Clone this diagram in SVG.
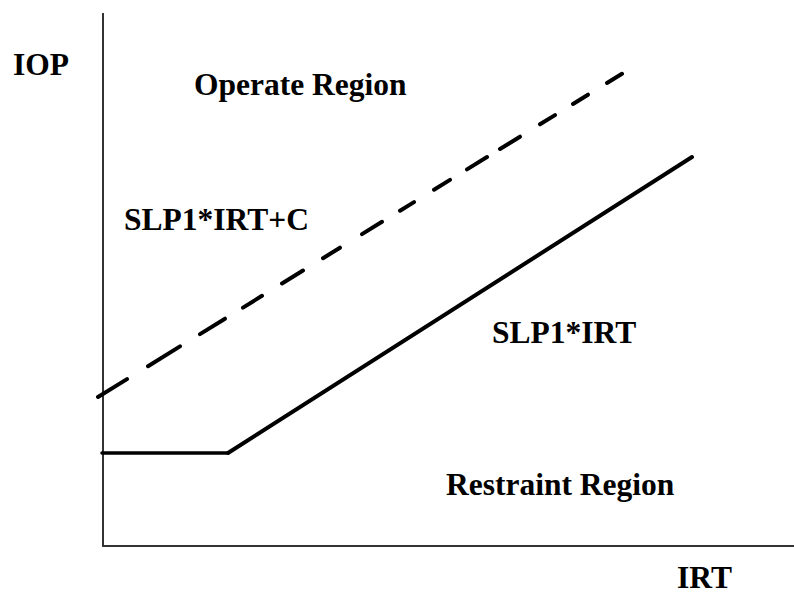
<svg xmlns="http://www.w3.org/2000/svg" width="794" height="595" viewBox="0 0 794 595">
<style>
.t{font-family:"Liberation Serif","Times New Roman",serif;font-weight:bold;font-size:31.5px;fill:#000}
.axis{stroke:#333;stroke-width:2;fill:none}
.curve{stroke:#000;fill:none;stroke-linecap:round}
</style>
<rect width="794" height="595" fill="#fff"/>
<g id="axes">
<path class="axis" d="M103 13 V546 H794"/>
</g>
<g id="connectors">
<path class="curve" stroke-width="3.5" d="M102 453 H228"/>
<path class="curve" stroke-width="4" d="M228 453 L692 157"/>
<path class="curve" stroke-width="4" d="M98 397 L127 379.1 M148 366.2 L180 346.4 M200 334.1 L225 318.7 M243 307.6 L262 295.8 M282 283.5 L303 270.5 M323 258.2 L340 247.7 M362 234.1 L382 221.8 M400 210.7 L414 202.1 M434 189.7 L450 179.9 M467 169.4 L487 157 M500 149 L520 136.7 M540 124.3 L555 115.1 M573 104 L588 94.7 M607 83 L622 73.8"/>
</g>
<g id="label-iop"><text class="t" x="13" y="75">IOP</text></g>
<g id="label-operate"><text class="t" x="194" y="95">Operate Region</text></g>
<g id="label-slp-c"><text class="t" x="124" y="230">SLP1*IRT+C</text></g>
<g id="label-slp"><text class="t" x="492" y="343">SLP1*IRT</text></g>
<g id="label-restraint"><text class="t" x="446" y="495">Restraint Region</text></g>
<g id="label-irt"><text class="t" x="677" y="588">IRT</text></g>
</svg>
